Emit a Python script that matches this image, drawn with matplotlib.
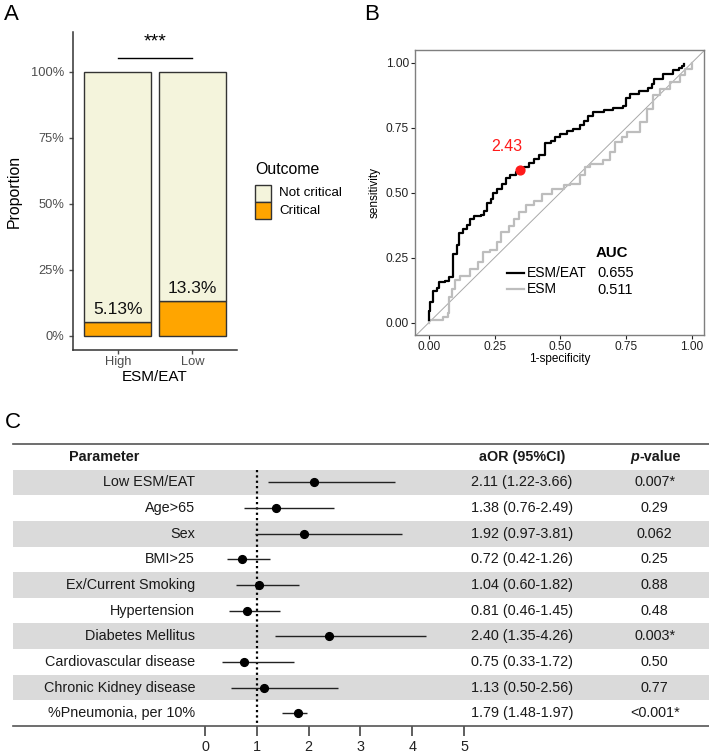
import matplotlib
matplotlib.use('Agg')
import matplotlib.pyplot as plt
from matplotlib.patches import Rectangle
from matplotlib.lines import Line2D

plt.rcParams['font.family'] = ['Liberation Sans', 'DejaVu Sans']

W, H = 709, 755  # figure size in pixels


def fx(px):
    return px / W


def fy(py):
    return 1 - py / H


# ---- panel A data ----
groups = ['High', 'Low']
critical = [0.0513, 0.133]
pct_labels = ['5.13%', '13.3%']
outcomes = ['Not critical', 'Critical']
outcome_colors = ['#F4F4DC', '#FFA500']

# ---- panel B data ----
esm_eat_fpr = [0.000, 0.000, 0.005, 0.015, 0.030, 0.040, 0.060, 0.075, 0.090, 0.093,
               0.105, 0.115, 0.130, 0.145, 0.155, 0.170, 0.200, 0.210, 0.220, 0.235,
               0.245, 0.260, 0.280, 0.295, 0.310, 0.330, 0.345, 0.360, 0.380, 0.400,
               0.420, 0.440, 0.465, 0.480, 0.500, 0.525, 0.550, 0.575, 0.590, 0.605,
               0.625, 0.665, 0.700, 0.740, 0.750, 0.765, 0.800, 0.835, 0.848, 0.855,
               0.890, 0.930, 0.950, 0.962, 0.971]
esm_eat_tpr = [0.010, 0.045, 0.078, 0.120, 0.135, 0.155, 0.160, 0.175, 0.190, 0.265,
               0.300, 0.345, 0.360, 0.375, 0.400, 0.410, 0.415, 0.430, 0.460, 0.475,
               0.500, 0.515, 0.535, 0.555, 0.570, 0.580, 0.587, 0.600, 0.615, 0.630,
               0.645, 0.690, 0.700, 0.715, 0.725, 0.737, 0.745, 0.760, 0.775, 0.795,
               0.810, 0.818, 0.825, 0.835, 0.865, 0.882, 0.893, 0.902, 0.920, 0.940,
               0.958, 0.972, 0.980, 0.990, 0.995]
esm_fpr = [0.000, 0.000, 0.055, 0.074, 0.075, 0.086, 0.099, 0.118, 0.156, 0.188,
           0.207, 0.232, 0.261, 0.274, 0.305, 0.324, 0.343, 0.368, 0.400, 0.430,
           0.468, 0.513, 0.537, 0.575, 0.594, 0.613, 0.664, 0.689, 0.708, 0.734,
           0.753, 0.803, 0.829, 0.854, 0.880, 0.918, 0.956, 0.975, 1.000]
esm_tpr = [0.000, 0.010, 0.020, 0.035, 0.100, 0.130, 0.162, 0.180, 0.205, 0.233,
           0.270, 0.280, 0.310, 0.348, 0.373, 0.400, 0.425, 0.451, 0.470, 0.496,
           0.515, 0.528, 0.535, 0.567, 0.599, 0.612, 0.625, 0.657, 0.695, 0.714,
           0.733, 0.773, 0.824, 0.875, 0.900, 0.927, 0.953, 0.978, 1.000]
roc_names = ['ESM/EAT', 'ESM']
auc = [0.655, 0.511]
cutoff_label = '2.43'
cutoff_fpr, cutoff_tpr = 0.345, 0.587

# ---- panel C data ----
params = ['Low ESM/EAT', 'Age>65', 'Sex', 'BMI>25', 'Ex/Current Smoking',
          'Hypertension', 'Diabetes Mellitus', 'Cardiovascular disease',
          'Chronic Kidney disease', '%Pneumonia, per 10%']
aor = [2.11, 1.38, 1.92, 0.72, 1.04, 0.81, 2.40, 0.75, 1.13, 1.79]
ci_low = [1.22, 0.76, 0.97, 0.42, 0.60, 0.46, 1.35, 0.33, 0.50, 1.48]
ci_high = [3.66, 2.49, 3.81, 1.26, 1.82, 1.45, 4.26, 1.72, 2.56, 1.97]
p_values = ['0.007*', '0.29', '0.062', '0.25', '0.88', '0.48', '0.003*',
            '0.50', '0.77', '<0.001*']
or_ticks = [0, 1, 2, 3, 4, 5]

fig = plt.figure(figsize=(W / 100, H / 100), dpi=100)

# ================= Panel A =================
axA = fig.add_axes([fx(73), fy(350), fx(237) - fx(73), fy(32) - fy(350)])
xpos = [1, 2]
not_crit = [1 - c for c in critical]
axA.bar(xpos, critical, width=0.9, color=outcome_colors[1], edgecolor='#333333', linewidth=1)
axA.bar(xpos, not_crit, bottom=critical, width=0.9, color=outcome_colors[0],
        edgecolor='#333333', linewidth=1)
for x, c, lab in zip(xpos, critical, pct_labels):
    axA.text(x, c + 0.018, lab, ha='center', va='bottom', fontsize=12.5, color='#111111')
axA.plot([1, 2], [1.05, 1.05], color='black', lw=1)
axA.text(1.5, 1.08, '***', ha='center', va='bottom', fontsize=14)
axA.set_xlim(0.4, 2.6)
axA.set_ylim(-0.054, 1.15)
axA.set_xticks(xpos)
axA.set_xticklabels(groups)
axA.set_yticks([0, 0.25, 0.5, 0.75, 1.0])
axA.set_yticklabels(['0%', '25%', '50%', '75%', '100%'])
axA.tick_params(colors='#4d4d4d', labelsize=9.3, length=3, width=1)
axA.tick_params(axis='x', pad=1.5)
for s in ['top', 'right']:
    axA.spines[s].set_visible(False)
for s in ['left', 'bottom']:
    axA.spines[s].set_color('#333333')
    axA.spines[s].set_linewidth(1.1)
axA.set_ylabel('Proportion', fontsize=11.4)
axA.yaxis.set_label_coords(-0.31, 0.5)
axA.set_xlabel('ESM/EAT', fontsize=11)
axA.xaxis.set_label_coords(0.5, -0.062)

# legend for panel A, drawn as keys + texts
fig.text(fx(255), fy(170), 'Outcome', fontsize=11.4, ha='left', va='center')
for k, (lab, col) in enumerate(zip(outcomes, outcome_colors)):
    top = 185 + 17 * k
    fig.patches.append(Rectangle((fx(255), fy(top + 17)), fx(16), fy(0) - fy(17),
                                 transform=fig.transFigure, facecolor=col,
                                 edgecolor='#333333', linewidth=1))
    fig.text(fx(279), fy(top + 8.5), lab, fontsize=9.6, ha='left', va='center')

# ================= Panel B =================
axB = fig.add_axes([fx(415), fy(335), fx(704) - fx(415), fy(50) - fy(335)])
axB.plot([-0.05, 1.05], [-0.05, 1.05], color='#a8a8a8', lw=0.7, zorder=1)
axB.plot(esm_fpr, esm_tpr, drawstyle='steps-post', color='#bdbdbd', lw=1.6,
         label=roc_names[1], zorder=2)
axB.plot(esm_eat_fpr, esm_eat_tpr, drawstyle='steps-post', color='black', lw=1.6,
         label=roc_names[0], zorder=3)
axB.scatter([cutoff_fpr], [cutoff_tpr], s=40, color='#ff1a1a', zorder=4)
axB.text(cutoff_fpr - 0.05, cutoff_tpr + 0.09, cutoff_label, color='#ff1a1a',
         fontsize=11.5, ha='center', va='center')
axB.set_xlim(-0.053, 1.047)
axB.set_ylim(-0.048, 1.05)
ticksB = [0, 0.25, 0.5, 0.75, 1.0]
axB.set_xticks(ticksB)
axB.set_yticks(ticksB)
axB.set_xticklabels([f'{t:.2f}' for t in ticksB])
axB.set_yticklabels([f'{t:.2f}' for t in ticksB])
axB.tick_params(colors='#222222', labelsize=8.6, length=3, width=0.8, pad=1.5)
for s in axB.spines.values():
    s.set_color('#7f7f7f')
    s.set_linewidth(1)
axB.set_ylabel('sensitivity', fontsize=8.5)
axB.yaxis.set_label_coords(-0.118, 0.5)
axB.set_xlabel('1-specificity', fontsize=8.5)
axB.xaxis.set_label_coords(0.5, -0.062)

hB = [Line2D([], [], color='black', lw=1.6), Line2D([], [], color='#bdbdbd', lw=1.6)]
axB.legend(hB, roc_names, loc='center left', bbox_to_anchor=(0.318, 0.188),
           frameon=False, fontsize=10, handlelength=1.2, handletextpad=0.25,
           labelspacing=0.15, borderpad=0, borderaxespad=0)
axB.text(0.681, 0.288, 'AUC', transform=axB.transAxes, fontsize=10.8,
         fontweight='bold', ha='center', va='center')
for yy, a in zip([0.2175, 0.158], auc):
    axB.text(0.631, yy, f'{a:.3f}', transform=axB.transAxes, fontsize=10.5,
             ha='left', va='center')

# ================= Panel C =================
axC = fig.add_axes([fx(13), fy(726), fx(709) - fx(13), fy(444) - fy(726)])
n = len(params)
for i in range(0, n, 2):
    axC.axhspan(i - 0.5, i + 0.5, color='#dadada', lw=0, zorder=0)
axC.plot([1, 1], [-0.5, n - 0.5], color='black', lw=1.6, ls=(0, (1, 1.4)), zorder=1)
rows = list(range(n))
axC.hlines(rows, ci_low, ci_high, color='#222222', lw=1, zorder=2)
axC.plot(aor, rows, 'o', color='black', markersize=5.6, zorder=3)
axC.set_xlim((13 - 205) / 51.8, (709 - 205) / 51.8)
axC.set_ylim(n - 0.5, -1.5)
axC.set_xticks(or_ticks)
axC.set_yticks([])
axC.tick_params(axis='x', labelsize=10.4, length=7, width=1.1, color='#333333',
                labelcolor='#222222', pad=3)
for s in ['left', 'right']:
    axC.spines[s].set_visible(False)
for s in ['top', 'bottom']:
    axC.spines[s].set_color('#555555')
    axC.spines[s].set_linewidth(1.2)

tr = axC.get_yaxis_transform()
txt = dict(fontsize=10.4, color='#1a1a1a', va='center', transform=tr)
axC.text(0.0805, -1, 'Parameter', fontweight='bold', ha='left', **txt)
axC.text(0.731, -1, 'aOR (95%CI)', fontweight='bold', ha='center', **txt)
axC.text(0.9, -1, 'p', fontweight='bold', style='italic', ha='right', **txt)
axC.text(0.9, -1, '-value', fontweight='bold', ha='left', **txt)
for i, (p, a, lo, hi, pv) in enumerate(zip(params, aor, ci_low, ci_high, p_values)):
    axC.text(0.2615, i, p, ha='right', **txt)
    axC.text(0.731, i, f'{a:.2f} ({lo:.2f}-{hi:.2f})', ha='center', **txt)
    axC.text(0.922, i, pv, ha='center', **txt)

# panel letters
for lab, x, y in [('A', 11, 14), ('B', 372, 14), ('C', 13, 423)]:
    fig.text(fx(x), fy(y), lab, fontsize=16, ha='center', va='center')

fig.savefig('out.png', dpi=100)
